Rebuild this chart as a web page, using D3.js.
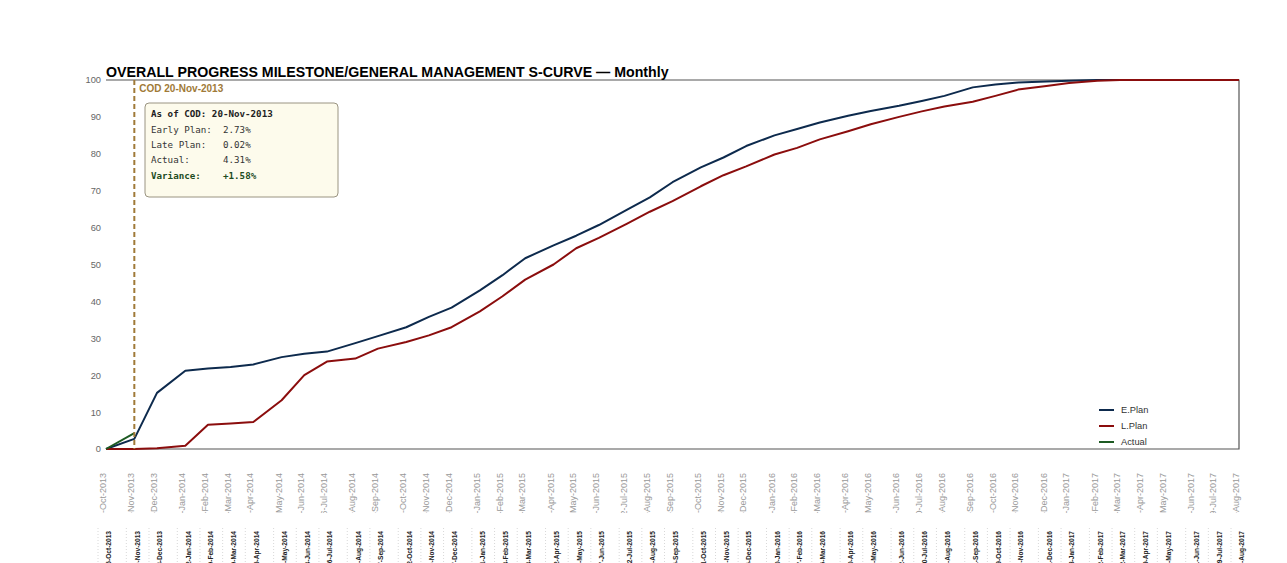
<!DOCTYPE html>
<html>
<head>
<meta charset="utf-8">
<script src="https://cdn.jsdelivr.net/npm/d3@7"></script>
<style>
  body { margin: 0; background: #fff; overflow: hidden; }
  svg { display: block; }
</style>
</head>
<body>
<script>
// Period dates (monthly cut-offs)
const periodDates = [
  "2013-10-16", "2013-11-20", "2013-12-18",
  "2014-01-22", "2014-02-19", "2014-03-19", "2014-04-16", "2014-05-21", "2014-06-18",
  "2014-07-16", "2014-08-20", "2014-09-17", "2014-10-22", "2014-11-19", "2014-12-17",
  "2015-01-21", "2015-02-18", "2015-03-18", "2015-04-22", "2015-05-20", "2015-06-17",
  "2015-07-22", "2015-08-19", "2015-09-16", "2015-10-21", "2015-11-18", "2015-12-16",
  "2016-01-20", "2016-02-17", "2016-03-16", "2016-04-20", "2016-05-18", "2016-06-22",
  "2016-07-20", "2016-08-17", "2016-09-21", "2016-10-19", "2016-11-16", "2016-12-21",
  "2017-01-18", "2017-02-22", "2017-03-22", "2017-04-19", "2017-05-17", "2017-06-21",
  "2017-07-19", "2017-08-16"
];

// Cumulative % progress
const earlyPlan = [
  0, 2.73, 15.2,
  21.2, 21.8, 22.2, 22.9, 24.9, 25.8,
  26.4, 28.7, 30.6, 33.0, 35.8, 38.3,
  43.0, 47.1, 51.7, 55.2, 57.8, 60.7,
  64.9, 68.2, 72.3, 76.3, 79.0, 82.1,
  85.0, 86.7, 88.5, 90.3, 91.6, 93.0,
  94.3, 95.7, 98.0, 98.8, 99.3, 99.6,
  99.8, 100, 100, 100, 100, 100,
  100, 100
];
const latePlan = [
  0, 0.02, 0.2,
  0.9, 6.6, 6.9, 7.3, 13.2, 20.0,
  23.7, 24.5, 27.2, 29.0, 30.8, 33.0,
  37.3, 41.4, 45.9, 50.0, 54.4, 57.2,
  61.1, 64.3, 67.2, 71.2, 74.2, 76.6,
  79.8, 81.6, 83.9, 86.1, 88.0, 90.0,
  91.5, 92.8, 94.1, 95.7, 97.4, 98.4,
  99.2, 99.8, 100, 100, 100, 100,
  100, 100
];
const actualDates = ["2013-10-16", "2013-11-20"];
const actual = [0, 4.31];

const codDate = "2013-11-20";
const yTicks = [0, 10, 20, 30, 40, 50, 60, 70, 80, 90, 100];
const seriesNames = ["E.Plan", "L.Plan", "Actual"];
const seriesColors = ["#0d2a4d", "#8b0d0d", "#1d5a22"];
const boxRows = [
  ["Early Plan:", "2.73%"],
  ["Late Plan:", "0.02%"],
  ["Actual:", "4.31%"],
  ["Variance:", "+1.58%"]
];

const parse = d3.timeParse("%Y-%m-%d");
const fmt = d3.timeFormat("%d-%b-%Y");
const dates = periodDates.map(parse);

const W = 1287, H = 563;
const m = { left: 106, right: 1239, top: 80, bottom: 449 };

const svg = d3.select("body").append("svg")
  .attr("width", W)
  .attr("height", H)
  .style("font-family", "'Liberation Sans', Arial, sans-serif");

const x = d3.scaleTime()
  .domain(d3.extent(dates))
  .range([m.left, m.right]);

const y = d3.scaleLinear()
  .domain([0, 100])
  .range([m.bottom, m.top]);

// frame: top, right, bottom
svg.append("path")
  .attr("d", `M${m.left},${m.top}H${m.right}V${m.bottom}H${m.left}`)
  .attr("fill", "none")
  .attr("stroke", "#555")
  .attr("stroke-width", 1.2);

// title
svg.append("text")
  .attr("x", m.left)
  .attr("y", 77)
  .attr("font-size", 14.2)
  .attr("font-weight", "bold")
  .attr("fill", "#000")
  .text("OVERALL PROGRESS MILESTONE/GENERAL MANAGEMENT S-CURVE \u2014 Monthly");

// y axis
const yAxis = d3.axisLeft(y).tickValues(yTicks).tickSize(0).tickPadding(5);
const yg = svg.append("g")
  .attr("transform", `translate(${m.left},0)`)
  .call(yAxis);
yg.select(".domain").remove();
yg.selectAll("text")
  .attr("font-size", 9.3)
  .attr("fill", "#666")
  .attr("font-family", "'Liberation Sans', Arial, sans-serif");

// x labels, first row (clipped at bottom)
svg.append("clipPath").attr("id", "clipRow1")
  .append("rect").attr("x", 0).attr("y", 455).attr("width", W).attr("height", 58);

svg.append("g")
  .attr("clip-path", "url(#clipRow1)")
  .selectAll("text")
  .data(dates)
  .enter().append("text")
  .attr("transform", d => `translate(${x(d) - 3},473) rotate(-90)`)
  .attr("text-anchor", "end")
  .attr("dy", "0.35em")
  .attr("font-size", 9)
  .attr("fill", "#999")
  .text(d => fmt(d));

// x labels, second row (bold, cut by page bottom)
const row2 = svg.append("g");
row2.selectAll("line")
  .data(dates)
  .enter().append("line")
  .attr("x1", d => x(d) - 8)
  .attr("x2", d => x(d) - 8)
  .attr("y1", 528)
  .attr("y2", H)
  .attr("stroke", "#d8d8d8")
  .attr("stroke-dasharray", "1,2");
row2.selectAll("text")
  .data(dates)
  .enter().append("text")
  .attr("transform", d => `translate(${x(d) + 3},531) rotate(-90)`)
  .attr("text-anchor", "end")
  .attr("dy", "0.35em")
  .attr("font-size", 6.6)
  .attr("font-weight", "bold")
  .attr("fill", "#222")
  .text(d => fmt(d));

// lines
const line = d3.line()
  .x(d => x(d[0]))
  .y(d => y(d[1]));

const series = [
  dates.map((d, i) => [d, earlyPlan[i]]),
  dates.map((d, i) => [d, latePlan[i]]),
  actualDates.map((d, i) => [parse(d), actual[i]])
];

svg.selectAll(".series")
  .data(series)
  .enter().append("path")
  .attr("class", "series")
  .attr("d", line)
  .attr("fill", "none")
  .attr("stroke", (d, i) => seriesColors[i])
  .attr("stroke-width", 2)
  .attr("stroke-linejoin", "round");

// COD marker
const codX = x(parse(codDate));
svg.append("line")
  .attr("x1", codX).attr("x2", codX)
  .attr("y1", m.top).attr("y2", m.bottom)
  .attr("stroke", "#a07a38")
  .attr("stroke-width", 2)
  .attr("stroke-dasharray", "5,3");

svg.append("text")
  .attr("x", codX + 5)
  .attr("y", 92)
  .attr("font-size", 10)
  .attr("font-weight", "bold")
  .attr("fill", "#a07a38")
  .text("COD " + fmt(parse(codDate)));

// COD info box
const box = svg.append("g")
  .style("font-family", "'DejaVu Sans Mono', monospace")
  .attr("font-size", 9.2);
box.append("rect")
  .attr("x", 145).attr("y", 103)
  .attr("width", 193).attr("height", 94)
  .attr("rx", 4)
  .attr("fill", "#fdfbec")
  .attr("stroke", "#9a9482")
  .attr("stroke-width", 1);
box.append("text")
  .attr("x", 151).attr("y", 117)
  .attr("font-weight", "bold")
  .attr("fill", "#222")
  .text("As of COD: " + fmt(parse(codDate)));
const rowY = [133, 148, 163, 179];
boxRows.forEach((r, i) => {
  const last = i === boxRows.length - 1;
  const t = box.append("text")
    .attr("y", rowY[i])
    .attr("fill", last ? "#1d4d1f" : "#333")
    .attr("font-weight", last ? "bold" : "normal");
  t.append("tspan").attr("x", 151).text(r[0]);
  t.append("tspan").attr("x", 223).text(r[1]);
});

// legend
const legend = svg.append("g");
seriesNames.forEach((name, i) => {
  const ly = 410 + i * 16;
  legend.append("line")
    .attr("x1", 1099).attr("x2", 1114)
    .attr("y1", ly).attr("y2", ly)
    .attr("stroke", seriesColors[i])
    .attr("stroke-width", 2);
  legend.append("text")
    .attr("x", 1121).attr("y", ly)
    .attr("dy", "0.35em")
    .attr("font-size", 9.3)
    .attr("fill", "#333")
    .text(name);
});
</script>
</body>
</html>
